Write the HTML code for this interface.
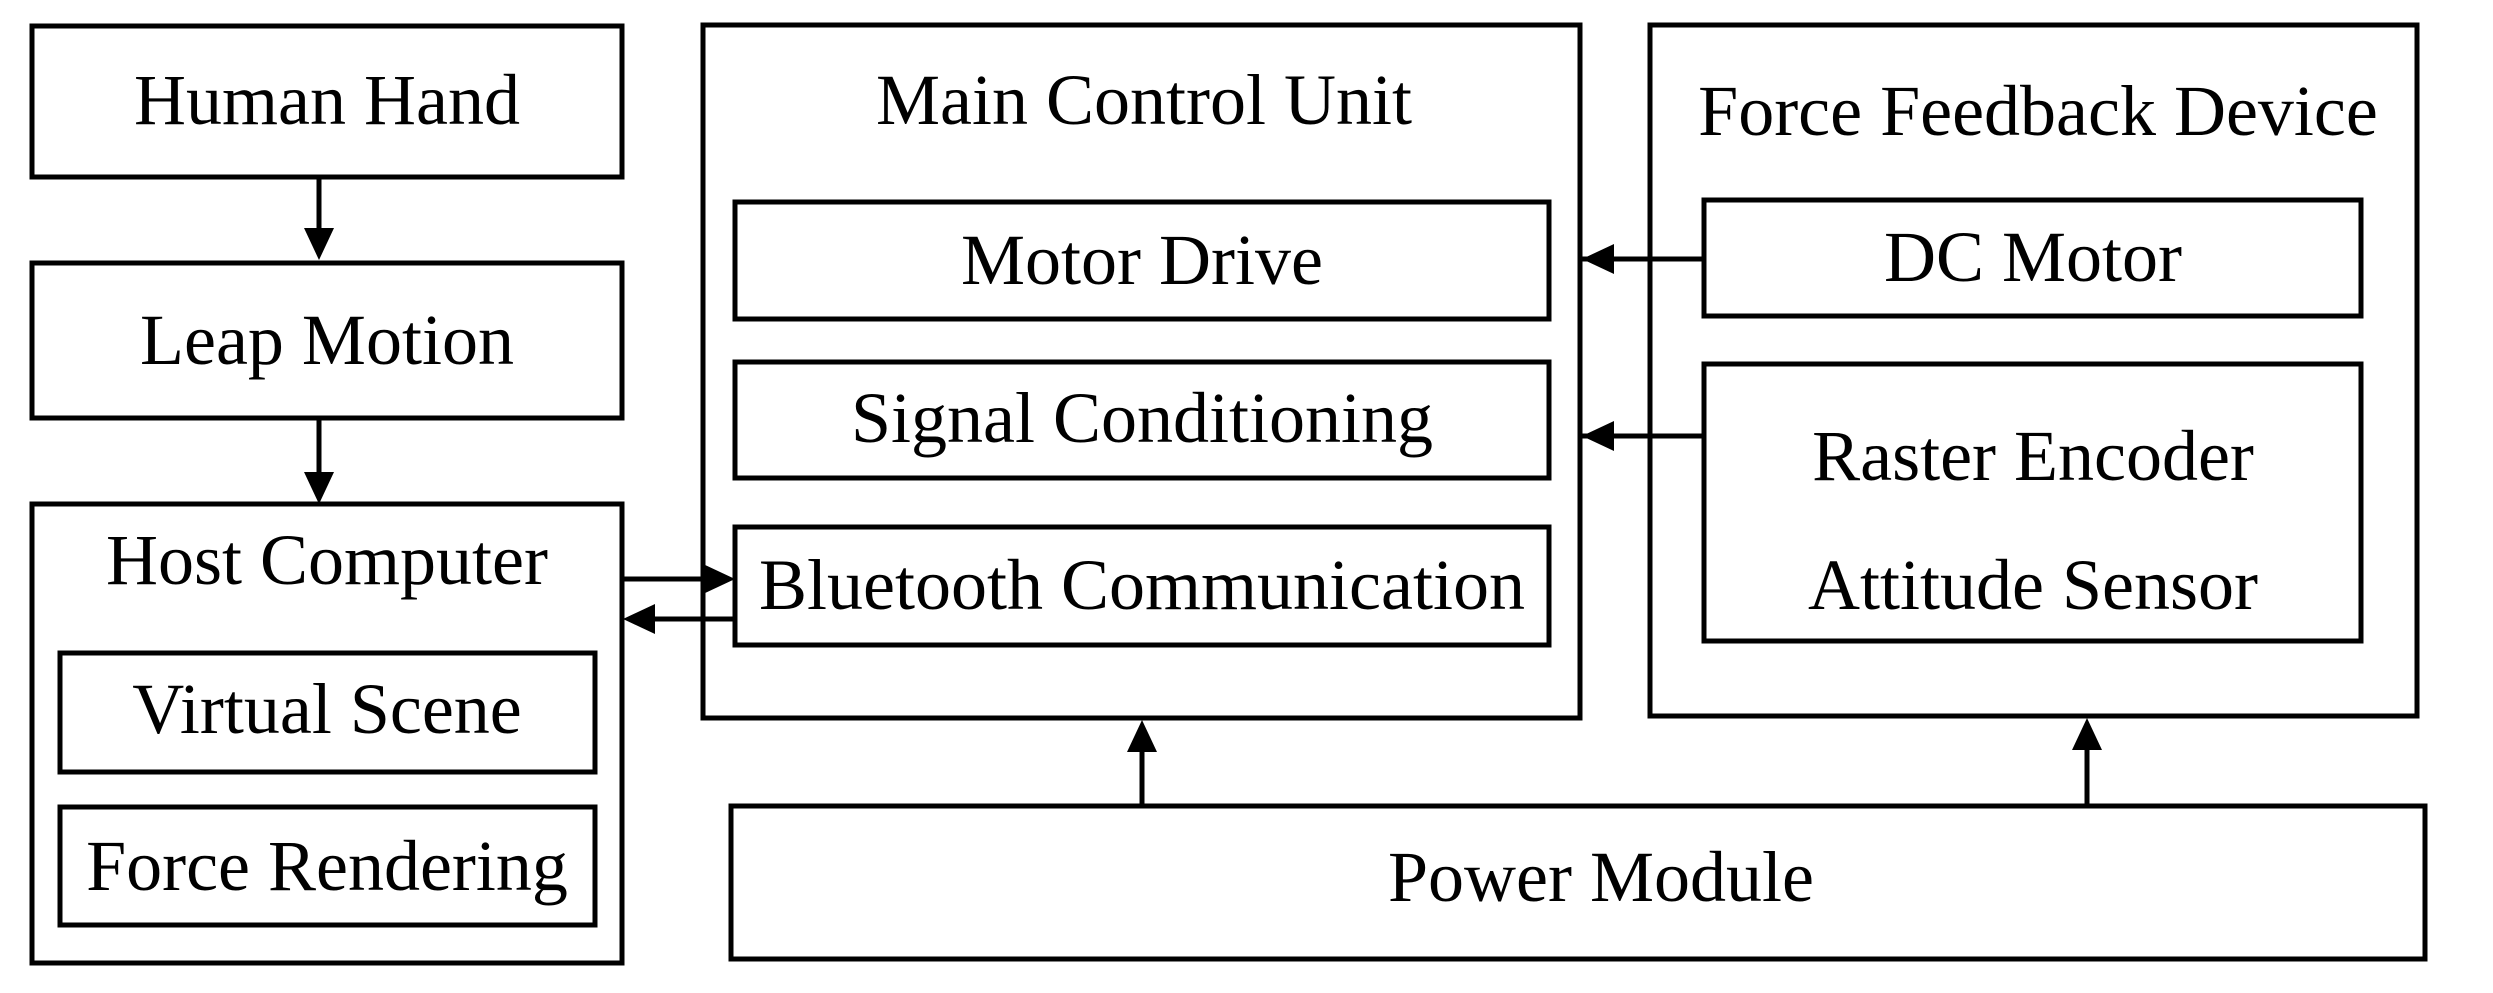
<!DOCTYPE html>
<html><head><meta charset="utf-8"><style>
html,body{margin:0;padding:0;background:#fff;}
svg{display:block;}
text{font-family:"Liberation Serif","Times New Roman",serif;font-size:72px;fill:#000;}
</style></head><body>
<svg width="2493" height="993" viewBox="0 0 2493 993" xmlns="http://www.w3.org/2000/svg">
<g fill="none" stroke="#000" stroke-width="5">
<rect x="32" y="26" width="590" height="151"/>
<rect x="32" y="263" width="590" height="155"/>
<rect x="32" y="504" width="590" height="459"/>
<rect x="60" y="653" width="535" height="119"/>
<rect x="60" y="807" width="535" height="118"/>
<rect x="703" y="25" width="877" height="693"/>
<rect x="735" y="202" width="814" height="117"/>
<rect x="735" y="362" width="814" height="116"/>
<rect x="735" y="527" width="814" height="118"/>
<rect x="1650" y="25" width="767" height="691"/>
<rect x="1704" y="200" width="657" height="116"/>
<rect x="1704" y="364" width="657" height="277"/>
<rect x="731" y="806" width="1694" height="153"/>
<line x1="319" y1="177" x2="319" y2="232"/>
<line x1="319" y1="418" x2="319" y2="474"/>
<line x1="622" y1="579" x2="705" y2="579"/>
<line x1="735" y1="619" x2="653" y2="619"/>
<line x1="1704" y1="259" x2="1580" y2="259"/>
<line x1="1704" y1="436" x2="1580" y2="436"/>
<line x1="1142" y1="806" x2="1142" y2="750"/>
<line x1="2087" y1="806" x2="2087" y2="748"/>
</g>
<g fill="#000">
<polygon points="304,228 334,228 319,260"/>
<polygon points="304,472 334,472 319,504"/>
<polygon points="703,564 703,594 735,579"/>
<polygon points="655,604 655,634 623,619"/>
<polygon points="1582,259 1614,244 1614,274"/>
<polygon points="1582,436 1614,421 1614,451"/>
<polygon points="1142,720 1127,752 1157,752"/>
<polygon points="2087,718 2072,750 2102,750"/>
</g>
<g text-anchor="middle">
<text x="327" y="124">Human Hand</text>
<text x="327" y="364">Leap Motion</text>
<text x="327" y="584">Host Computer</text>
<text x="327" y="733">Virtual Scene</text>
<text x="327" y="890">Force Rendering</text>
<text x="1144" y="124">Main Control Unit</text>
<text x="1142" y="284">Motor Drive</text>
<text x="1142" y="442">Signal Conditioning</text>
<text x="1142" y="609">Bluetooth Communication</text>
<text x="2038" y="135">Force Feedback Device</text>
<text x="2033" y="281">DC Motor</text>
<text x="2033" y="480">Raster Encoder</text>
<text x="2033" y="609">Attitude Sensor</text>
<text x="1601" y="901">Power Module</text>
</g>
</svg>
</body></html>
